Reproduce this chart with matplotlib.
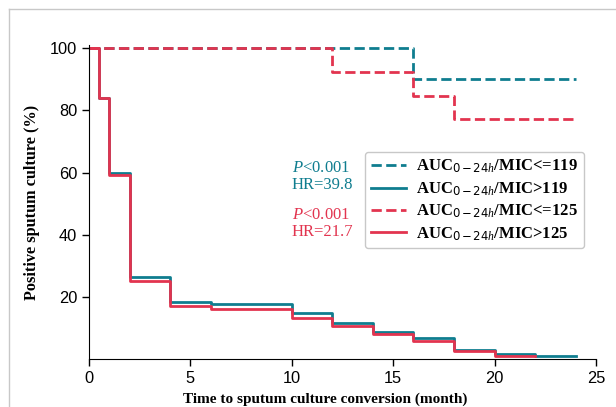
import numpy as np
import matplotlib.pyplot as plt
from matplotlib.lines import Line2D

plt.rcParams['mathtext.fontset'] = 'custom'
plt.rcParams['mathtext.rm'] = 'DejaVu Sans'
plt.rcParams['mathtext.it'] = 'Liberation Serif:italic'

# Kaplan-Meier style step data (months, % positive)
t_hi119 = [0, 0.5, 1, 2, 4, 6, 10, 12, 14, 16, 18, 20, 22, 24]
s_hi119 = [100, 84, 60, 26.3, 18.4, 17.5, 14.8, 11.4, 8.6, 6.8, 2.8, 1.5, 0.9, 0.9]
t_hi125 = [0, 0.5, 1, 2, 4, 6, 10, 12, 14, 16, 18, 20, 22]
s_hi125 = [100, 84, 59.2, 25, 16.9, 16, 13.2, 10.6, 8, 5.8, 2.4, 0.9, 0.9]
t_lo119 = [0, 16, 24]
s_lo119 = [100, 90, 90]
t_lo125 = [0, 12, 16, 18, 24]
s_lo125 = [100, 92.3, 84.7, 77.1, 77.1]

teal = '#0f7d8f'
red = '#e2344f'
lw = 2.0

fig = plt.figure(figsize=(6.16, 4.07), dpi=100)
ax = fig.add_axes([0.1445, 0.1184, 0.823, 0.7705])

ax.step(t_lo119, s_lo119, where='post', color=teal, lw=lw, ls='--')
ax.step(t_hi119, s_hi119, where='post', color=teal, lw=lw)
ax.step(t_lo125, s_lo125, where='post', color=red, lw=lw, ls='--')
ax.step(t_hi125, s_hi125, where='post', color=red, lw=lw)

ax.set_xlim(0, 25)
ax.set_ylim(0, 101)
ax.set_xticks([0, 5, 10, 15, 20, 25])
ax.set_yticks([20, 40, 60, 80, 100])
ax.tick_params(labelsize=11.8, length=5, width=1)
for lab in ax.get_xticklabels() + ax.get_yticklabels():
    lab.set_family('Liberation Sans')
ax.spines['top'].set_visible(False)
ax.spines['right'].set_visible(False)

serif = 'Liberation Serif'
ax.set_xlabel('Time to sputum culture conversion (month)', family=serif,
              fontweight='bold', fontsize=11, labelpad=5)
ax.xaxis.label.set_x(0.465)
ax.set_ylabel('Positive sputum culture (%)', family=serif,
              fontweight='bold', fontsize=11.7, labelpad=7)

ax.text(10, 61.4, '$P$<0.001', color=teal, family=serif, fontsize=12, va='center')
ax.text(10, 56.0, 'HR=39.8', color=teal, family=serif, fontsize=12, va='center')
ax.text(10, 46.3, '$P$<0.001', color=red, family=serif, fontsize=12, va='center')
ax.text(10, 40.8, 'HR=21.7', color=red, family=serif, fontsize=12, va='center')

handles = [
    Line2D([], [], color=teal, lw=lw, ls='--'),
    Line2D([], [], color=teal, lw=lw),
    Line2D([], [], color=red, lw=lw, ls='--'),
    Line2D([], [], color=red, lw=lw),
]
labels = [
    'AUC$_{0-24h}$/MIC<=119',
    'AUC$_{0-24h}$/MIC>119',
    'AUC$_{0-24h}$/MIC<=125',
    'AUC$_{0-24h}$/MIC>125',
]
ax.legend(handles, labels, loc='upper left', bbox_to_anchor=(0.544, 0.659),
          borderaxespad=0, borderpad=0.35,
          prop={'family': serif, 'weight': 'bold', 'size': 12},
          handlelength=2.1, handletextpad=0.65, labelspacing=0.3,
          edgecolor='#bbbbbb')

# page frame lines
fig.add_artist(Line2D([0.015, 1], [0.977, 0.977], color='#c8c8c8', lw=1))
fig.add_artist(Line2D([0.015, 0.015], [0, 0.977], color='#c8c8c8', lw=1))

fig.savefig('out.png', dpi=100)
